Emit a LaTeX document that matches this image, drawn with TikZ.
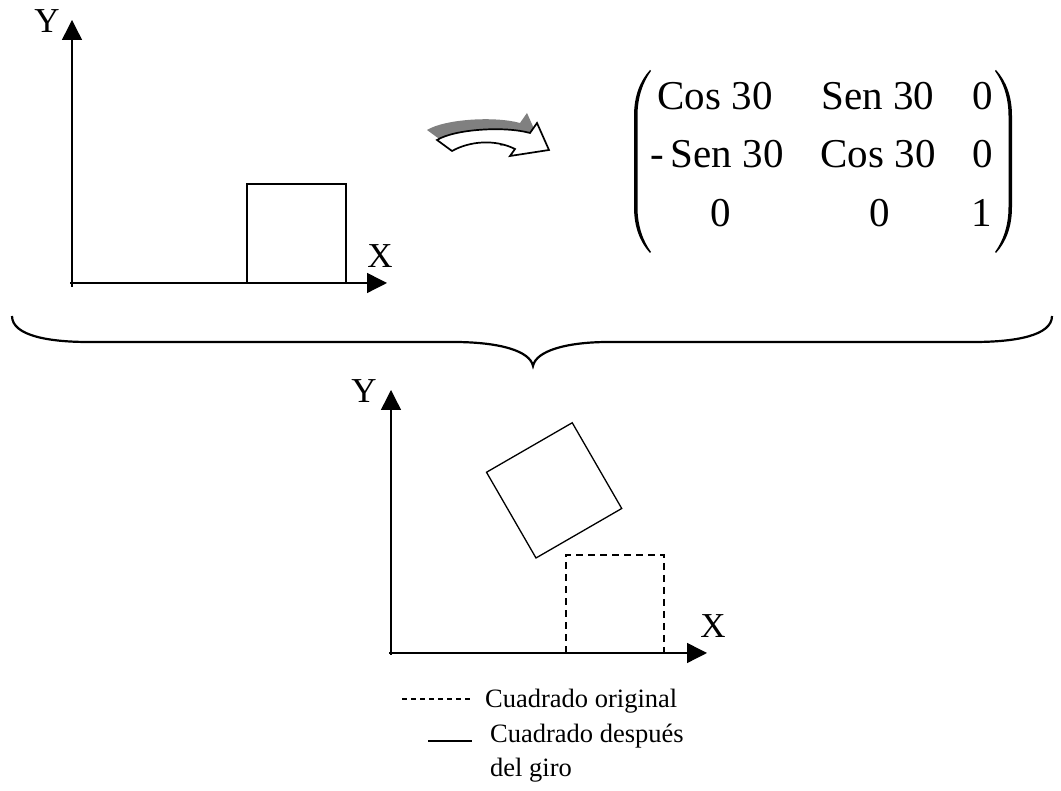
\documentclass[tikz,border=0pt]{standalone}
\usepackage{fontspec}
\setmainfont{Liberation Serif}
\usetikzlibrary{arrows.meta}
\tikzset{
  axis/.style={line width=1.4pt, -{Triangle[length=20pt,width=20pt]}},
  sq/.style={line width=1.3pt},
  dsq/.style={line width=1.4pt, dash pattern=on 7pt off 5pt},
  axlabel/.style={inner sep=0pt, anchor=base, font=\fontsize{35}{40}\selectfont},
  entry/.style={inner sep=0pt, anchor=base, font=\fontsize{41}{48}\selectfont},
  legtext/.style={inner sep=0pt, anchor=base west, font=\fontsize{26.5}{34}\selectfont},
}
\begin{document}
\begin{tikzpicture}[x=1pt,y=1pt]
\useasboundingbox (0,0) rectangle (1061,791);
% top axes
\coordinate (o1) at (72,508);
\coordinate (y1b) at (72,504);
\coordinate (y1t) at (72,771);
\coordinate (x1b) at (70,508);
\coordinate (x1t) at (387,508);
\draw[axis] (y1b) -- (y1t);
\draw[axis] (x1b) -- (x1t);
\node[axlabel] (Y1) at (47,758) {Y};
\node[axlabel] (X1) at (380,523) {X};
\draw[sq] (247,508) rectangle (346,607);
% curved arrow
\begin{scope}[shift={(-10,10)}]
\fill[black!50] (437,651) .. controls (455,662) and (505,665) .. (530,658) -- (537,668) -- (549,641) -- (510,635) -- (515,642) .. controls (495,652) and (470,650) .. (452,640) -- cycle;
\end{scope}
\draw[fill=white, line width=1.7pt, line join=miter] (437,651) .. controls (455,662) and (505,665) .. (530,658) -- (537,668) -- (549,641) -- (510,635) -- (515,642) .. controls (495,652) and (470,650) .. (452,640) -- cycle;
% matrix
\fill (650,721) .. controls (640,710) and (634,695) .. (634,675) -- (634,584) .. controls (634,564) and (640,549) .. (650,538)
  -- (651,539) .. controls (643,550) and (637.5,565) .. (637.5,584) -- (637.5,675) .. controls (637.5,694) and (643,709) .. (651,720) -- cycle;
\begin{scope}[xshift=1646pt, xscale=-1]
\fill (650,721) .. controls (640,710) and (634,695) .. (634,675) -- (634,584) .. controls (634,564) and (640,549) .. (650,538)
  -- (651,539) .. controls (643,550) and (637.5,565) .. (637.5,584) -- (637.5,675) .. controls (637.5,694) and (643,709) .. (651,720) -- cycle;
\end{scope}
\node[entry] (m11) at (715,681) {Cos 30};
\node[entry] (m12) at (878,681) {Sen 30};
\node[entry] (m13) at (983,681) {0};
\node[entry] (m21) at (717,623) {-\,Sen 30};
\node[entry] (m22) at (878,623) {Cos 30};
\node[entry] (m23) at (983,623) {0};
\node[entry] (m31) at (721,564) {0};
\node[entry] (m32) at (880,564) {0};
\node[entry] (m33) at (982,564) {1};
% brace
\draw[line width=2.2pt] (12,475) .. controls (12,455) and (50,449) .. (88,449) -- (453,449) .. controls (500,449) and (530,440) .. (533,425) .. controls (536,440) and (566,449) .. (609,449) -- (974,449) .. controls (1014,449) and (1052,455) .. (1052,475);
% bottom axes
\coordinate (o2) at (391,138);
\coordinate (y2b) at (391,136);
\coordinate (y2t) at (391,401);
\coordinate (x2b) at (389,138);
\coordinate (x2t) at (707,138);
\draw[axis] (y2b) -- (y2t);
\draw[axis] (x2b) -- (x2t);
\node[axlabel] (Y2) at (364,388) {Y};
\node[axlabel] (X2) at (713,153) {X};
\draw[dsq] (566,138) rectangle (664,236);
\draw[sq, rotate around={30:(536,233)}] (536,233) rectangle +(99,99);
% legend
\coordinate (l1a) at (402,92);
\coordinate (l1b) at (473,92);
\draw[line width=1.3pt, dash pattern=on 5pt off 4pt] (l1a) -- (l1b);
\node[legtext] (t1) at (485,83) {Cuadrado original};
\coordinate (l2a) at (428,50);
\coordinate (l2b) at (472,50);
\draw[line width=1.5pt] (l2a) -- (l2b);
\node[legtext] (t2) at (490,48) {Cuadrado después};
\node[legtext] (t3) at (490,14) {del giro};
\end{tikzpicture}
\end{document}
